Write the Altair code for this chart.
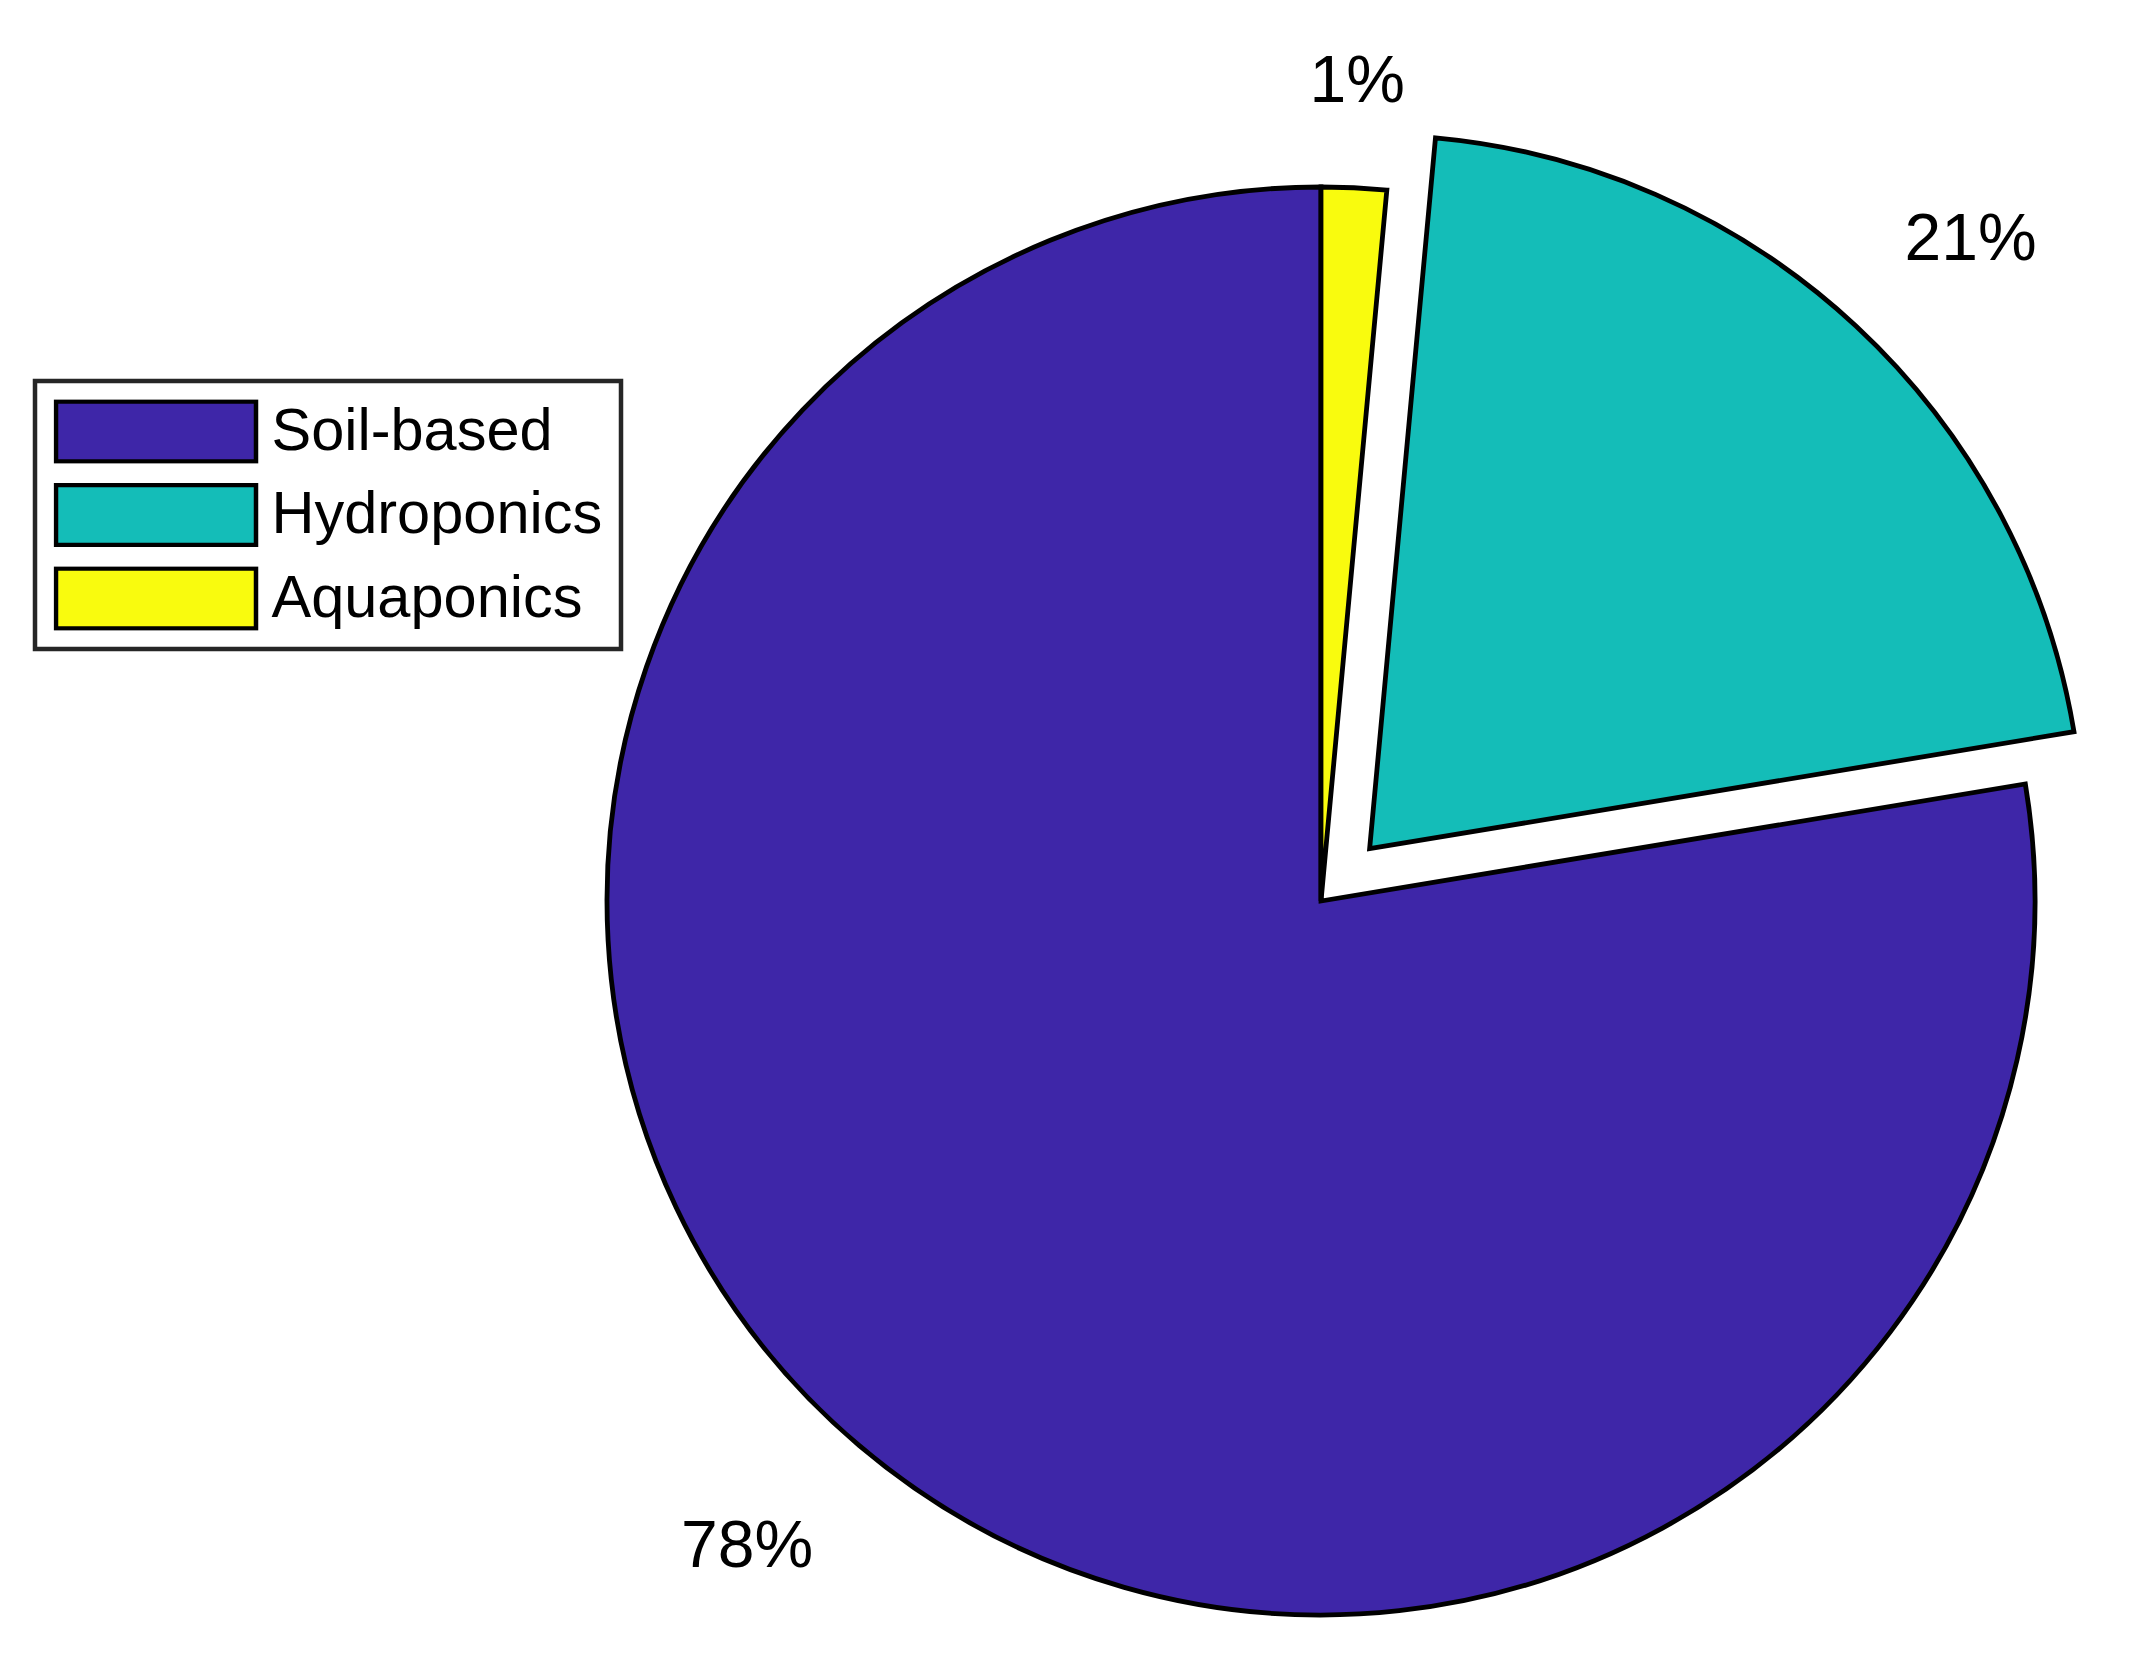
import altair as alt
import numpy as np
import pandas as pd

# ---- data ----
categories = ["Soil-based", "Hydroponics", "Aquaponics"]
shares = [77.62, 20.91, 1.47]          # percent
explode = [0, 1, 0]
colors = ["#3E26A8", "#14BDB8", "#F9FB0E"]

# label placement style (MATLAB-like)
label_align = ["right", "left", "center"]
label_baseline = ["top", "bottom", "bottom"]
label_dy = [15, 0, 0]

# ---- layout ----
R = 714.0
CX, CY = 1313.0, 893.0
FONT = "Liberation Sans"

vals = np.array(shares, dtype=float)
cum = np.cumsum(vals)
start = 100 - cum
end = 100 - (cum - vals)
mid = (start + end) / 2
ang = mid / 100 * 2 * np.pi
ex = np.array(explode) * 0.1 * R

df = pd.DataFrame({
    "category": categories,
    "share": vals,
    "start": start,
    "end": end,
    "mid": mid,
    "label": [f"{round(v):d}%" for v in vals],
})

theta_scale = alt.Scale(domain=[0, 100], range=[0, 2 * np.pi])
color_scale = alt.Scale(domain=categories, range=colors)

legend = alt.Legend(
    title=None,
    orient="none",
    legendX=27,
    legendY=373,
    symbolType="M-1,-0.3H1V0.3H-1Z",
    symbolSize=40000,
    symbolStrokeColor="black",
    symbolStrokeWidth=4.5,
    symbolOpacity=1,
    clipHeight=64,
    rowPadding=19.5,
    labelOffset=13,
    labelFont=FONT,
    labelFontSize=59.5,
    labelColor="black",
    labelLimit=1000,
    labelExpr="datum.label + '\u2009'",
    padding=18.5,
    strokeColor="#262626",
    fillColor="white",
)

layers = []
for i, cat in enumerate(categories):
    dx = ex[i] * np.sin(ang[i])
    dy = -ex[i] * np.cos(ang[i])
    base = alt.Chart(df).transform_filter(alt.datum.category == cat)
    arc = base.mark_arc(radius=R, stroke="black", strokeWidth=4.8, strokeJoin="miter").encode(
        theta=alt.Theta("start:Q", scale=theta_scale),
        theta2="end:Q",
        color=alt.Color("category:N", scale=color_scale, legend=legend, sort=categories),
        x=alt.value(CX + dx),
        y=alt.value(CY + dy),
    )
    txt = base.mark_text(
        radius=1.1 * R,
        align=label_align[i],
        baseline=label_baseline[i],
        dy=label_dy[i],
        font=FONT,
        fontSize=66,
        color="black",
    ).encode(
        theta=alt.Theta("mid:Q", scale=theta_scale),
        text="label:N",
        x=alt.value(CX + dx),
        y=alt.value(CY + dy),
    )
    layers += [arc, txt]

chart = alt.layer(*layers).properties(
    width=2100, height=1620, padding=0, background="white"
).configure_view(stroke=None).configure_legend(strokeWidth=4.5)

chart.save("out.html", embed_options={"renderer": "svg", "actions": False})
